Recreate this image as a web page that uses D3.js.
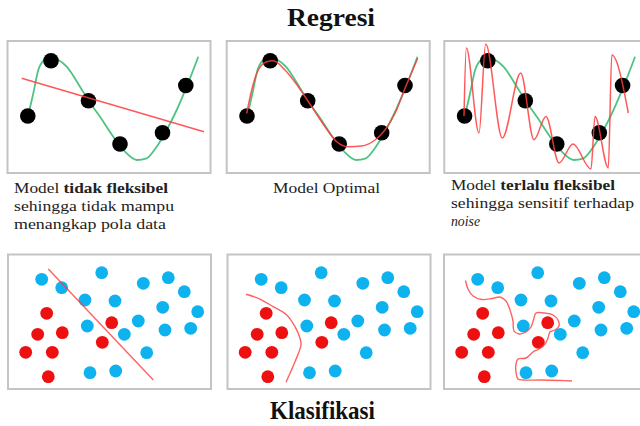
<!DOCTYPE html>
<html><head><meta charset="utf-8">
<script src="https://cdn.jsdelivr.net/npm/d3@7"></script>
<style>body{margin:0;background:#fff}svg{display:block}</style>
</head><body><svg id="c" width="640" height="426"></svg>
<script>
// ---------- DATA ----------
// Regression: observed points (x, y) in panel data units
const regX = [20.3, 43.5, 81, 112.5, 155, 178.3];
const regY = [57, 112.3, 72.3, 29, 40.3, 87.5];
// true (green) function, traced
const trueCurve = [[20.5,57],[25.8,79.7],[30.8,103],[37.5,113.7],[42.5,115.7],[59.2,106.3],[72.5,86.3],[81,72.5],[92.5,56.3],[105.8,36.3],[117.5,21.3],[129.2,13],[139.2,14.7],[149.2,26.3],[159.2,43],[169.2,63],[179.2,86.3],[190.8,116.3]];
// fitted models (red)
const underfitLine = [[14.2,94.7],[196.5,41.3]];
const optimalCurve = [[20,59.7],[25,83],[31.6,103],[40,111.3],[46.6,112.3],[58.3,103],[71.6,86.3],[85,66.3],[98.3,46.3],[110,31.3],[121.6,26.3],[135,27],[148.3,33],[158.3,43],[168.3,59.7],[178.3,84.7],[191,114.7]];
const overfitCurve = [[19.7,57],[22,125],[34.7,40],[41.4,129],[58,35],[76.4,100],[89.7,33.3],[101.7,56.5],[114.7,10],[128.7,29],[146.7,4],[150.7,56.5],[164,5],[167.5,118],[184,60]];

// Classification: class points
const blueX = [33.7,53.7,93.7,77,107,135.3,160.3,176.3,154.7,189.7,79.3,130.3,116.3,157,182.7,138.7,82,107.7];
const blueY = [109.7,101.3,116.3,89,88,105.7,111.3,97.3,81.7,77.3,63,68,54.7,59,60.7,36.3,16.3,18];
const redX = [38.7,29.7,54.3,17.7,44.3,40.3,103.7,94.3];
const redY = [75.7,54.7,56.3,36.7,36.7,12.3,66.3,46.7];
// decision boundaries
const linearBoundary = [[40.3,120],[145.3,9]];
const smoothBoundary = [[18.5,94.7],[30.8,90.7],[45.8,82.3],[59.2,74],[67.5,62.3],[72.5,50.7],[73.5,44],[67.5,27.3],[62.5,15.7],[58.5,6.7]];
const overfitBoundary = [[21.5,108.5],[24,100],[29,93],[38,89.5],[48,90.5],[56,92],[62,88],[66,79],[69,68],[70,58],[75,55],[82,57],[87,62],[90,71],[92,76],[100,76],[109,74],[114,69],[115,63],[111,59],[106,57],[104,51],[101,45],[95,40],[89,37],[82,31],[74,30],[72,25],[72,17],[74,10],[79,9],[96,9],[116,8.5],[128,8]];

// Texts
const titleTop = "Regresi";
const titleBottom = "Klasifikasi";
const captions = [
  [[["Model ","normal"],["tidak fleksibel","bold"]],[["sehingga tidak mampu","normal"]],[["menangkap pola data","normal"]]],
  [[["Model Optimal","normal"]]],
  [[["Model ","normal"],["terlalu fleksibel","bold"]],[["sehingga sensitif terhadap","normal"]],[["noise","italic"]]]
];

// ---------- DRAW ----------
const svg = d3.select("#c");
svg.append("rect").attr("width",640).attr("height",426).attr("fill","#fff");

const W = 203;
const regLefts = [7.5, 226.7, 444.3];
const regFits = [underfitLine, optimalCurve, overfitCurve];
const clsLefts = [8, 227.5, 444];
const clsBounds = [linearBoundary, smoothBoundary, overfitBoundary];

const GREEN = "#4fc383", RED = "#ff3b3b", BLUE = "#0db2ee", REDPT = "#ee1010";

regLefts.forEach((L, i) => {
  const x = d3.scaleLinear().domain([0, W]).range([L, L + W]);
  const y = d3.scaleLinear().domain([0, 132]).range([173, 41]);
  const g = svg.append("g");
  g.append("rect").attr("x", x(0)).attr("y", y(132)).attr("width", x(W) - x(0)).attr("height", y(0) - y(132))
    .attr("fill", "#fff").attr("stroke", "#c4c4c4").attr("stroke-width", 2);
  const lineM = d3.line().x(d => x(d[0])).y(d => y(d[1])).curve(d3.curveMonotoneX);
  g.append("path").attr("d", lineM(trueCurve)).attr("fill", "none").attr("stroke", GREEN).attr("stroke-width", 1.8);
  g.selectAll("circle").data(regX.map((v, k) => [v, regY[k]])).join("circle")
    .attr("cx", d => x(d[0])).attr("cy", d => y(d[1])).attr("r", 7.8).attr("fill", "#000");
  const fit = regFits[i];
  const lf = i === 0 ? d3.line().x(d => x(d[0])).y(d => y(d[1])) : lineM;
  g.append("path").attr("d", lf(fit)).attr("fill", "none").attr("stroke", RED)
    .attr("stroke-opacity", 0.85).attr("stroke-width", 1.5);
});

clsLefts.forEach((L, i) => {
  const x = d3.scaleLinear().domain([0, W]).range([L, L + W]);
  const y = d3.scaleLinear().domain([0, 134.5]).range([389, 254.5]);
  const g = svg.append("g");
  g.append("rect").attr("x", x(0)).attr("y", y(134.5)).attr("width", x(W) - x(0)).attr("height", y(0) - y(134.5))
    .attr("fill", "#fff").attr("stroke", "#c4c4c4").attr("stroke-width", 2);
  g.selectAll("circle.b").data(blueX.map((v, k) => [v, blueY[k]])).join("circle").attr("class", "b")
    .attr("cx", d => x(d[0])).attr("cy", d => y(d[1])).attr("r", 6.4).attr("fill", BLUE);
  g.selectAll("circle.r").data(redX.map((v, k) => [v, redY[k]])).join("circle").attr("class", "r")
    .attr("cx", d => x(d[0])).attr("cy", d => y(d[1])).attr("r", 6.4).attr("fill", REDPT);
  const ln = d3.line().x(d => x(d[0])).y(d => y(d[1]));
  if (i > 0) ln.curve(d3.curveCatmullRom.alpha(0.5));
  g.append("path").attr("d", ln(clsBounds[i])).attr("fill", "none").attr("stroke", RED)
    .attr("stroke-opacity", 0.8).attr("stroke-width", 1.4);
});

// Titles
const serif = "'Liberation Serif', 'Times New Roman', serif";
svg.append("text").attr("x", 287).attr("y", 26).attr("font-family", serif).attr("font-weight", "bold")
  .attr("font-size", 26).attr("fill", "#111").attr("textLength", 88).attr("lengthAdjust", "spacingAndGlyphs").text(titleTop);
svg.append("text").attr("x", 270).attr("y", 419).attr("font-family", serif).attr("font-weight", "bold")
  .attr("font-size", 26).attr("fill", "#111").attr("textLength", 105).attr("lengthAdjust", "spacingAndGlyphs").text(titleBottom);

// Captions
const capPos = [
  {x: 14, y: [193, 211, 229], w: [154, 160, 152]},
  {x: 273, y: [193], w: [107]},
  {x: 451, y: [190, 208, 226], w: [164, 183, 29]}
];
captions.forEach((lines, i) => {
  lines.forEach((parts, j) => {
    const t = svg.append("text").attr("x", capPos[i].x).attr("y", capPos[i].y[j])
      .attr("font-family", serif).attr("font-size", 14.5).attr("fill", "#222")
      .attr("textLength", capPos[i].w[j]).attr("lengthAdjust", "spacingAndGlyphs");
    parts.forEach(p => {
      const s = t.append("tspan").text(p[0]);
      if (p[1] === "bold") s.attr("font-weight", "bold");
      if (p[1] === "italic") s.attr("font-style", "italic");
    });
  });
});
</script></body></html>
